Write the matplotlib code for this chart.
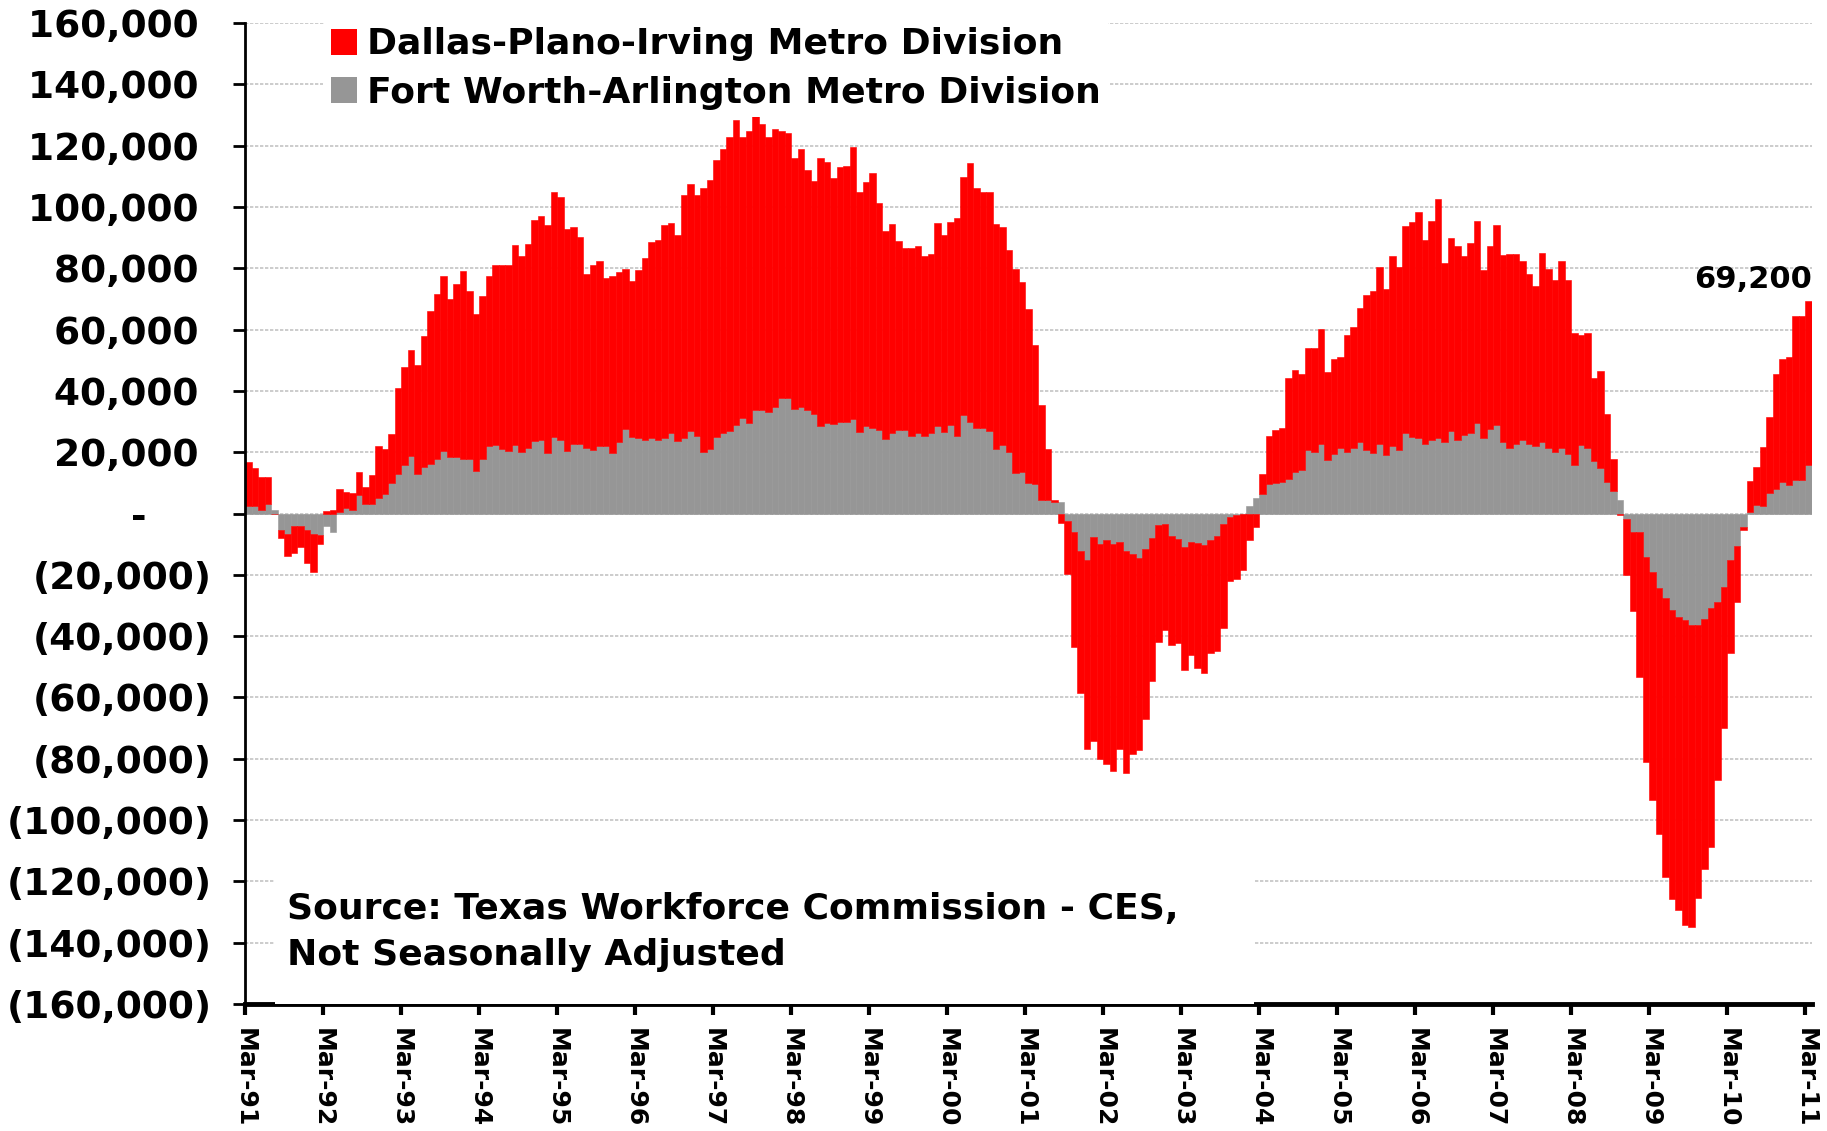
import numpy as np
import pandas as pd
import matplotlib.pyplot as plt
from matplotlib.patches import Patch, Rectangle
from matplotlib.ticker import FuncFormatter

plt.rcParams['font.family'] = ['DejaVu Sans']
plt.rcParams['font.weight'] = 'bold'

# monthly job change over the year, Mar-91 .. Mar-11 (thousands)
months = pd.date_range('1991-03-01', '2011-03-01', freq='MS')

dallas = [
    14.5, 12.4, 11.0, 9.0, 0.0, -2.6, -7.3, -9.0, -7.0, -10.6, -12.3, -3.0,
    0.8, 1.0, 7.5, 5.3, 5.6, 7.4, 5.5, 9.6, 16.8, 14.5, 16.0, 28.1,
    32.0, 34.6, 35.5, 42.6, 49.7, 53.9, 57.0, 51.7, 56.7, 61.2, 54.7, 51.0,
    53.2, 55.4, 58.6, 60.0, 60.6, 65.3, 63.9, 66.6, 72.1, 73.0, 74.2, 79.9,
    79.3, 72.3, 70.8, 67.5, 56.7, 60.2, 60.3, 54.9, 57.6, 55.4, 52.2, 51.1,
    54.8, 59.5, 63.8, 65.1, 69.5, 68.6, 67.3, 79.2, 80.4, 78.6, 86.2, 87.7,
    90.3, 92.8, 95.7, 99.5, 91.6, 95.1, 97.5, 93.3, 89.5, 90.8, 86.9, 86.3,
    81.9, 83.9, 78.4, 76.1, 87.2, 85.0, 80.1, 83.1, 83.6, 88.6, 78.2, 79.5,
    83.0, 74.0, 67.7, 68.3, 61.6, 59.4, 61.3, 61.2, 58.7, 58.5, 66.1, 64.2,
    66.0, 71.0, 77.5, 84.4, 78.2, 76.9, 77.9, 73.2, 70.9, 66.1, 66.6, 62.2,
    56.8, 45.4, 31.2, 16.6, 0.6, -3.0, -17.2, -37.5, -46.5, -61.5, -66.3, -70.4,
    -73.0, -74.1, -67.4, -72.4, -65.0, -62.4, -55.5, -46.6, -38.2, -34.5, -35.6, -34.1,
    -40.2, -36.8, -40.8, -41.8, -36.7, -37.4, -33.9, -20.7, -20.8, -18.2, -8.5, -4.3,
    6.3, 15.6, 17.4, 17.8, 32.7, 33.2, 31.1, 33.2, 33.9, 37.5, 28.5, 31.0,
    29.7, 38.2, 39.5, 43.7, 50.5, 52.7, 57.7, 54.2, 61.9, 59.6, 67.6, 70.0,
    73.7, 66.5, 71.4, 77.9, 58.3, 63.2, 63.3, 58.4, 62.1, 65.8, 54.8, 59.7,
    65.2, 60.9, 63.3, 62.0, 58.4, 55.4, 52.1, 61.6, 58.4, 56.1, 61.1, 56.8,
    43.2, 35.9, 37.7, 26.9, 31.5, 22.2, 10.5, -0.6, -18.3, -25.7, -47.2, -66.7,
    -74.4, -80.2, -90.8, -94.5, -95.6, -99.6, -98.5, -88.8, -81.7, -78.1, -58.0, -46.0,
    -30.3, -18.4, -1.0, 10.1, 12.4, 19.5, 24.9, 37.7, 40.3, 41.8, 53.7, 53.5, 53.4,
]

fort_worth = [
    2.3, 2.3, 1.0, 3.0, 1.0, -5.4, -6.7, -4.0, -4.0, -5.4, -6.7, -7.0,
    -4.0, -6.0, 0.4, 1.7, 1.0, 6.0, 3.0, 3.0, 5.2, 6.5, 9.8, 12.9,
    15.7, 18.8, 13.0, 15.2, 16.3, 17.8, 20.4, 18.3, 18.3, 17.8, 17.8, 14.0,
    17.8, 22.0, 22.4, 21.0, 20.4, 22.4, 20.0, 21.4, 23.6, 24.0, 19.8, 24.9,
    24.0, 20.4, 22.6, 22.6, 21.3, 20.7, 22.0, 22.0, 19.8, 23.3, 27.5, 24.9,
    24.6, 24.0, 24.6, 24.0, 24.6, 26.3, 23.6, 24.6, 27.0, 25.2, 20.0, 21.0,
    24.9, 26.2, 27.0, 28.8, 31.1, 29.6, 33.7, 33.7, 33.2, 34.7, 37.8, 37.8,
    34.0, 34.9, 33.6, 32.3, 28.7, 29.6, 29.3, 29.9, 29.9, 30.9, 26.7, 28.6,
    28.0, 27.3, 24.4, 26.1, 27.3, 27.3, 25.4, 26.1, 25.4, 26.1, 28.6, 26.7,
    29.0, 25.4, 32.2, 29.9, 28.0, 28.0, 27.0, 21.2, 22.5, 19.9, 13.2, 13.4,
    9.8, 9.5, 4.3, 4.3, 3.7, 3.7, -2.6, -6.0, -12.2, -15.2, -7.8, -9.8,
    -8.7, -9.8, -9.3, -12.2, -13.3, -14.6, -11.5, -8.0, -3.8, -3.5, -7.4, -8.3,
    -10.9, -9.3, -9.6, -10.2, -8.7, -7.4, -3.5, -1.3, -0.5, -0.3, 2.4, 4.9,
    6.5, 9.6, 9.8, 10.2, 11.4, 13.5, 14.3, 20.7, 20.0, 22.6, 17.6, 19.3,
    21.3, 20.0, 21.3, 23.3, 20.7, 19.8, 22.6, 19.0, 22.0, 20.7, 26.1, 25.0,
    24.6, 22.6, 23.9, 24.6, 23.3, 26.8, 23.9, 25.5, 26.1, 29.5, 24.6, 27.5,
    28.8, 23.3, 21.3, 22.6, 23.9, 22.6, 22.0, 23.3, 21.3, 20.0, 21.3, 19.4,
    15.8, 22.2, 21.3, 17.2, 14.9, 10.2, 7.3, 4.4, -1.8, -6.1, -6.1, -14.3,
    -19.0, -24.2, -27.7, -31.4, -33.9, -34.7, -36.5, -36.5, -34.3, -30.7, -28.9, -24.1,
    -15.3, -10.5, -4.5, 0.4, 2.9, 2.3, 6.6, 7.9, 10.2, 9.3, 10.8, 11.0, 15.8,
]

dallas = np.array(dallas) * 1000
fort_worth = np.array(fort_worth) * 1000

RED = '#FF0000'
GRAY = '#969696'

fig = plt.figure(figsize=(18.27, 11.31), dpi=100)
ax = fig.add_axes([245 / 1827, 1 - 1004 / 1131, (1812 - 245) / 1827, (1004 - 23) / 1131])

x = np.arange(len(months))
# excel style stacking: positives go up from zero, negatives go down
same_sign = np.sign(dallas) == np.sign(fort_worth)
red_bottom = np.where(same_sign, fort_worth, 0)

ax.bar(x, fort_worth, width=1.0, color=GRAY, edgecolor=GRAY, linewidth=0.4, zorder=2)
ax.bar(x, dallas, bottom=red_bottom, width=1.0, color=RED, edgecolor=RED, linewidth=0.4, zorder=2)

ax.set_xlim(-0.5, len(months) - 0.5)
ax.set_ylim(-160000, 160000)

# ticks on each March
march = np.where(months.month == 3)[0]
ax.set_xticks(march - 0.5)
ax.set_xticklabels([months[i].strftime('%b-%y') for i in march], rotation=270,
                   fontsize=18, fontweight='bold')
ax.tick_params(axis='x', length=8, width=3, pad=9)


def fmt(v, pos):
    if v == 0:
        return '-\u2007\u2007 '
    if v < 0:
        return '({:,.0f})'.format(-v)
    return '{:,.0f} '.format(v)


ax.set_yticks(np.arange(-160000, 160001, 20000))
ax.yaxis.set_major_formatter(FuncFormatter(fmt))
ax.tick_params(axis='y', length=9, width=2, pad=15, labelsize=27)
for lab in ax.get_yticklabels():
    lab.set_fontweight('bold')

ax.yaxis.grid(True, color='#c4c4c4', linestyle=(0, (2, 1)), linewidth=1.2)
ax.set_axisbelow(True)
for s in ['top', 'right']:
    ax.spines[s].set_visible(False)
ax.spines['left'].set_linewidth(2)
ax.spines['bottom'].set_linewidth(3.5)

handles = [Patch(facecolor=RED), Patch(facecolor=GRAY)]
leg = ax.legend(handles, ['Dallas-Plano-Irving Metro Division',
                          'Fort Worth-Arlington Metro Division'],
                loc='upper left', bbox_to_anchor=(0.05, 1.003),
                prop={'weight': 'bold', 'size': 26}, frameon=True,
                handlelength=0.72, handleheight=0.72, handletextpad=0.3,
                labelspacing=0.4, borderpad=0.2, borderaxespad=0)
leg.get_frame().set_facecolor('white')
leg.get_frame().set_edgecolor('none')
leg.get_frame().set_alpha(1)

# white text box behind the source note, it also hides part of the axis line
ax.add_patch(Rectangle((0.019, 0.0), 0.625, 0.137, transform=ax.transAxes,
                       facecolor='white', edgecolor='none', zorder=4, clip_on=False))
ax.text(0.0268, 0.073, 'Source: Texas Workforce Commission - CES,\nNot Seasonally Adjusted',
        transform=ax.transAxes, fontsize=26, fontweight='bold', va='center', ha='left',
        linespacing=1.45, zorder=5)

last_total = dallas[-1] + fort_worth[-1]
ax.annotate('{:,.0f}'.format(last_total), xy=(x[-1], last_total), xytext=(2, 5),
            textcoords='offset points', ha='right', va='bottom',
            fontsize=22, fontweight='bold')

fig.savefig('out.png', dpi=100)
